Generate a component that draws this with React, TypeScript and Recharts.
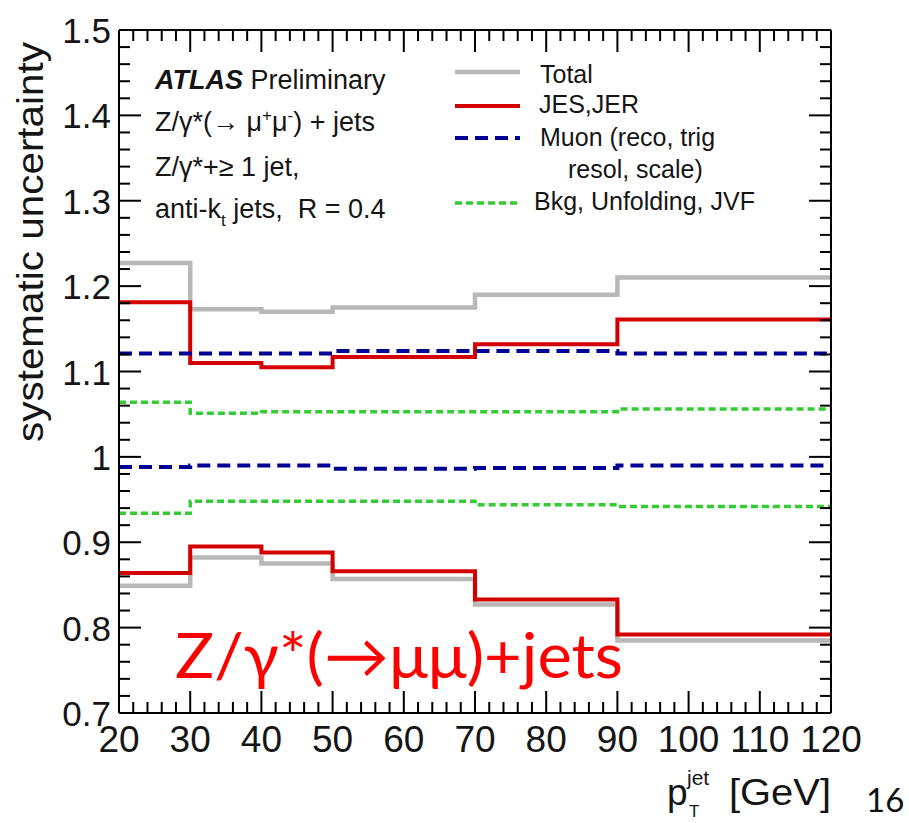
import React from 'react';
import { LineChart, Line, XAxis, YAxis } from 'recharts';

// bin edges in pT (GeV); last edge closes the final bin
const edges = [20, 30, 40, 50, 70, 90, 120];

// per-bin values (one per bin, 6 bins)
const totalUp = [1.227, 1.173, 1.17, 1.175, 1.19, 1.21];
const totalDown = [0.849, 0.882, 0.875, 0.857, 0.827, 0.785];
const jesUp = [1.181, 1.11, 1.105, 1.117, 1.132, 1.161];
const jesDown = [0.864, 0.895, 0.888, 0.866, 0.833, 0.792];
const muonUp = [1.121, 1.121, 1.121, 1.124, 1.124, 1.121];
const muonDown = [0.988, 0.99, 0.99, 0.986, 0.987, 0.99];
const bkgUp = [1.064, 1.051, 1.053, 1.053, 1.053, 1.056];
const bkgDown = [0.934, 0.948, 0.948, 0.948, 0.944, 0.942];

const yMajor = [0.7, 0.8, 0.9, 1.0, 1.1, 1.2, 1.3, 1.4, 1.5];
const yLabels = ['0.7', '0.8', '0.9', '1', '1.1', '1.2', '1.3', '1.4', '1.5'];
const xMajor = [20, 30, 40, 50, 60, 70, 80, 90, 100, 110, 120];
const xLabels = ['20', '30', '40', '50', '60', '70', '80', '90', '100', '110', '120'];

// minor tick grids (axis decoration only)
const yTicks: number[] = [];
for (let i = 0; i <= 40; i++) yTicks.push(Math.round((0.7 + i * 0.02) * 1000) / 1000);
const xTicks: number[] = [];
for (let i = 0; i <= 50; i++) xTicks.push(20 + i * 2);

const bin = (arr: number[], i: number) => arr[Math.min(i, arr.length - 1)];

const data = edges.map((x, i) => ({
  x,
  totalUp: bin(totalUp, i),
  totalDown: bin(totalDown, i),
  jesUp: bin(jesUp, i),
  jesDown: bin(jesDown, i),
  muonUp: bin(muonUp, i),
  muonDown: bin(muonDown, i),
  bkgUp: bin(bkgUp, i),
  bkgDown: bin(bkgDown, i),
}));

const FONT = '"Liberation Sans", Arial, sans-serif';
const INK = '#151515';

const isMajor = (list: number[], v: number) => list.findIndex(m => Math.abs(m - v) < 1e-6);

const LeftTick = (props: any) => {
  const { x, y, payload } = props;
  const k = isMajor(yMajor, payload.value);
  return (
    <g>
      <line x1={x} x2={x + (k >= 0 ? 22 : 11)} y1={y} y2={y} stroke="#000" strokeWidth={2} />
      {k >= 0 && (
        <text x={x - 8} y={y + 13} textAnchor="end" fontSize={35} fontFamily={FONT} fill={INK}>
          {yLabels[k]}
        </text>
      )}
    </g>
  );
};

const RightTick = (props: any) => {
  const { x, y, payload } = props;
  const k = isMajor(yMajor, payload.value);
  return <line x1={x} x2={x - (k >= 0 ? 22 : 11)} y1={y} y2={y} stroke="#000" strokeWidth={2} />;
};

const BottomTick = (props: any) => {
  const { x, y, payload } = props;
  const k = isMajor(xMajor, payload.value);
  return (
    <g>
      <line x1={x} x2={x} y1={y} y2={y - (k >= 0 ? 22 : 11)} stroke="#000" strokeWidth={2} />
      {k >= 0 && (
        <text x={x} y={y + 39} textAnchor="middle" fontSize={37} fontFamily={FONT} fill={INK}>
          {xLabels[k]}
        </text>
      )}
    </g>
  );
};

const TopTick = (props: any) => {
  const { x, y, payload } = props;
  const k = isMajor(xMajor, payload.value);
  return <line x1={x} x2={x} y1={y} y2={y + (k >= 0 ? 22 : 11)} stroke="#000" strokeWidth={2} />;
};

const GRAY = '#b8b8b8';
const RED = '#d40000';
const BLUE = '#000095';
const GREEN = '#33cc33';

export default function App() {
  const axisLine = { stroke: '#000', strokeWidth: 2 };
  const lineProps = { type: 'stepAfter' as const, dot: false, activeDot: false, isAnimationActive: false };
  return (
    <div style={{ position: 'absolute', left: 0, top: 0, width: 909, height: 823, background: '#fff' }}>
      <LineChart width={909} height={823} data={data} margin={{ top: 0, right: 0, bottom: 0, left: 0 }}>
        <XAxis xAxisId="b" dataKey="x" type="number" domain={[20, 120]} allowDataOverflow ticks={xTicks}
          interval={0} height={110} tickSize={0} tickMargin={0} axisLine={axisLine} tickLine={false} tick={<BottomTick />} />
        <XAxis xAxisId="t" orientation="top" dataKey="x" type="number" domain={[20, 120]} allowDataOverflow ticks={xTicks}
          interval={0} height={30} tickSize={0} tickMargin={0} axisLine={axisLine} tickLine={false} tick={<TopTick />} />
        <YAxis yAxisId="l" type="number" domain={[0.7, 1.5]} allowDataOverflow ticks={yTicks} interval={0}
          width={119} tickSize={0} tickMargin={0} axisLine={axisLine} tickLine={false} tick={<LeftTick />} />
        <YAxis yAxisId="r" orientation="right" type="number" domain={[0.7, 1.5]} allowDataOverflow ticks={yTicks} interval={0}
          width={78} tickSize={0} tickMargin={0} axisLine={axisLine} tickLine={false} tick={<RightTick />} />

        <Line {...lineProps} xAxisId="b" yAxisId="l" dataKey="totalUp" stroke={GRAY} strokeWidth={4.5} />
        <Line {...lineProps} xAxisId="t" yAxisId="r" dataKey="totalDown" stroke={GRAY} strokeWidth={4.5} />
        <Line {...lineProps} xAxisId="b" yAxisId="l" dataKey="jesUp" stroke={RED} strokeWidth={4} />
        <Line {...lineProps} xAxisId="t" yAxisId="r" dataKey="jesDown" stroke={RED} strokeWidth={4} />
        <Line {...lineProps} xAxisId="b" yAxisId="l" dataKey="muonUp" stroke={BLUE} strokeWidth={4} strokeDasharray="13 7" />
        <Line {...lineProps} xAxisId="t" yAxisId="r" dataKey="muonDown" stroke={BLUE} strokeWidth={4} strokeDasharray="13 7" />
        <Line {...lineProps} xAxisId="b" yAxisId="l" dataKey="bkgUp" stroke={GREEN} strokeWidth={3.5} strokeDasharray="7 4" />
        <Line {...lineProps} xAxisId="t" yAxisId="r" dataKey="bkgDown" stroke={GREEN} strokeWidth={3.5} strokeDasharray="7 4" />
      </LineChart>

      <svg width={909} height={823} style={{ position: 'absolute', left: 0, top: 0, pointerEvents: 'none' }}>
        {/* y axis title */}
        <text transform="translate(43,242) rotate(-90)" textAnchor="middle" fontSize={37} fontFamily={FONT} fill={INK}
          textLength={400} lengthAdjust="spacingAndGlyphs">
          systematic uncertainty
        </text>

        {/* x axis title */}
        <g fontFamily={FONT} fill={INK}>
          <text x={667} y={805} fontSize={37}>p</text>
          <text x={687} y={785} fontSize={21}>jet</text>
          <text x={689} y={817} fontSize={17}>T</text>
          <text x={729} y={805} fontSize={37} textLength={102} lengthAdjust="spacingAndGlyphs">[GeV]</text>
        </g>

        {/* annotation */}
        <g fontFamily={FONT} fill={INK} fontSize={27}>
          <text x={155} y={89}>
            <tspan fontWeight="bold" fontStyle="italic">ATLAS</tspan> Preliminary
          </text>
          <text x={155} y={131}>
            Z/γ*(→ μ<tspan dy={-10} fontSize={17}>+</tspan><tspan dy={10}>μ</tspan>
            <tspan dy={-10} fontSize={17}>-</tspan><tspan dy={10}>) + jets</tspan>
          </text>
          <text x={155} y={176}>Z/γ*+≥ 1 jet,</text>
          <text x={155} y={218}>
            anti-k<tspan dy={8} fontSize={17}>t</tspan><tspan dy={-8}>{' jets,\u00a0 R = 0.4'}</tspan>
          </text>
        </g>

        {/* legend */}
        <g fontFamily={FONT} fill={INK} fontSize={25}>
          <line x1={455} x2={520} y1={72} y2={72} stroke={GRAY} strokeWidth={4.5} />
          <text x={540} y={83}>Total</text>
          <line x1={455} x2={520} y1={106} y2={106} stroke={RED} strokeWidth={4} />
          <text x={539} y={113}>JES,JER</text>
          <line x1={455} x2={520} y1={138} y2={138} stroke={BLUE} strokeWidth={4} strokeDasharray="13 7" />
          <text x={540} y={146}>Muon (reco, trig</text>
          <text x={568} y={178}>resol, scale)</text>
          <line x1={455} x2={520} y1={203} y2={203} stroke={GREEN} strokeWidth={3.5} strokeDasharray="7 4" />
          <text x={534} y={210}>Bkg, Unfolding, JVF</text>
        </g>

        {/* slide overlay text */}
        <text x={175} y={678} fontSize={62} fontFamily="Lato, 'Open Sans', sans-serif" fill="#ff0000"
          textLength={448} lengthAdjust="spacingAndGlyphs">
          Z/γ*(→μμ)+jets
        </text>
        <text x={866} y={812} fontSize={33} fontFamily="Lato, 'Open Sans', sans-serif" fill="#111">16</text>
      </svg>
    </div>
  );
}
